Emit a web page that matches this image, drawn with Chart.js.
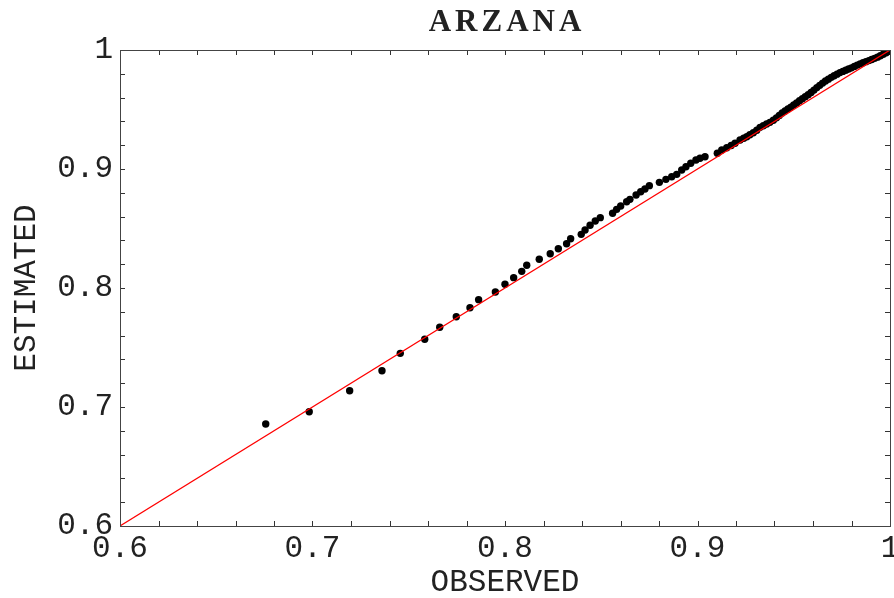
<!DOCTYPE html>
<html>
<head>
<meta charset="utf-8">
<script src="https://cdn.jsdelivr.net/npm/chart.js@4"></script>
<style>
html,body{margin:0;padding:0;background:#fff;}
#wrap{width:894px;height:598px;}
</style>
</head>
<body>
<div id="wrap"><canvas id="c" width="894" height="598"></canvas></div>
<script>
const chartTitle = 'ARZANA';
const xTitle = 'OBSERVED';
const yTitle = 'ESTIMATED';
const tickLabels = ['0.6', '0.7', '0.8', '0.9', '1'];
const axisMin = 0.6, axisMax = 1.0, minorStep = 0.02;

const observed = [
  0.6757, 0.6983, 0.7193, 0.7361, 0.7456, 0.7583, 0.7661, 0.7747, 0.7818, 0.7863,
  0.7950, 0.8000, 0.8045, 0.8087, 0.8113, 0.8178, 0.8235, 0.8277, 0.8320, 0.8341,
  0.8396, 0.8416, 0.8442, 0.8469, 0.8495, 0.8559, 0.8580, 0.8601, 0.8632, 0.8649,
  0.8681, 0.8705, 0.8727, 0.8750, 0.8802, 0.8836, 0.8866, 0.8892, 0.8918, 0.8940,
  0.8965, 0.8992, 0.9013, 0.9039,
  0.9103, 0.9126, 0.9152, 0.9175, 0.9195, 0.9221, 0.9240, 0.9256, 0.9272, 0.9290,
  0.9308, 0.9325, 0.9342, 0.9359, 0.9376, 0.9394,
  0.9410, 0.9425, 0.9440, 0.9455, 0.9470, 0.9485, 0.9500, 0.9515, 0.9530, 0.9545,
  0.9560, 0.9575, 0.9590, 0.9605, 0.9620, 0.9635, 0.9650, 0.9665, 0.9680, 0.9695,
  0.9710, 0.9725, 0.9740, 0.9755, 0.9770, 0.9785, 0.9800, 0.9815, 0.9830, 0.9845,
  0.9860, 0.9875, 0.9890, 0.9905, 0.9920, 0.9935, 0.9950, 0.9965, 0.9980, 0.9992
];
const estimated = [
  0.6857, 0.6960, 0.7137, 0.7305, 0.7451, 0.7569, 0.7670, 0.7759, 0.7834, 0.7902,
  0.7966, 0.8031, 0.8087, 0.8140, 0.8191, 0.8241, 0.8288, 0.8330, 0.8372, 0.8414,
  0.8451, 0.8487, 0.8527, 0.8563, 0.8591, 0.8628, 0.8661, 0.8689, 0.8725, 0.8745,
  0.8782, 0.8809, 0.8832, 0.8860, 0.8888, 0.8913, 0.8935, 0.8955, 0.8992, 0.9019,
  0.9048, 0.9076, 0.9090, 0.9103,
  0.9132, 0.9160, 0.9179, 0.9198, 0.9216, 0.9244, 0.9258, 0.9271, 0.9288, 0.9305,
  0.9326, 0.9350, 0.9364, 0.9378, 0.9392, 0.9410,
  0.9430, 0.9450, 0.9470, 0.9487, 0.9505, 0.9520, 0.9538, 0.9555, 0.9573, 0.9590,
  0.9608, 0.9625, 0.9643, 0.9663, 0.9684, 0.9703, 0.9722, 0.9740, 0.9755, 0.9770,
  0.9784, 0.9797, 0.9810, 0.9820, 0.9830, 0.9840, 0.9850, 0.9862, 0.9873, 0.9883,
  0.9893, 0.9902, 0.9911, 0.9920, 0.9930, 0.9940, 0.9952, 0.9964, 0.9977, 0.9990
];
const refLineX = [0.6, 1.0];
const refLineY = [0.6, 1.0];

const monoFont = "'Liberation Mono', 'Courier New', monospace";

function labelFor(v) {
  const k = (v - axisMin) / 0.1;
  const r = Math.round(k);
  if (Math.abs(k - r) < 1e-6 && r >= 0 && r < tickLabels.length) return tickLabels[r];
  return '';
}

const frameTicks = {
  id: 'frameTicks',
  afterLayout(chart) {
    const tb = chart.titleBlock;
    if (tb && !tb._spaced) {
      const orig = tb.draw.bind(tb);
      tb.draw = function () {
        const c = chart.ctx;
        c.save();
        c.letterSpacing = '4px';
        c.translate(2, 0);
        orig();
        c.restore();
      };
      tb._spaced = true;
    }
  },
  afterDraw(chart) {
    const ctx = chart.ctx;
    const a = chart.chartArea;
    const xs = chart.scales.x, ys = chart.scales.y;
    const len = 5;
    ctx.save();
    ctx.strokeStyle = '#333';
    ctx.lineWidth = 1;
    ctx.beginPath();
    xs.ticks.forEach(t => {
      const px = Math.round(xs.getPixelForValue(t.value)) + 0.5;
      ctx.moveTo(px, a.bottom); ctx.lineTo(px, a.bottom - len);
      ctx.moveTo(px, a.top); ctx.lineTo(px, a.top + len);
    });
    ys.ticks.forEach(t => {
      const py = Math.round(ys.getPixelForValue(t.value)) + 0.5;
      ctx.moveTo(a.left, py); ctx.lineTo(a.left + len, py);
      ctx.moveTo(a.right, py); ctx.lineTo(a.right - len, py);
    });
    ctx.stroke();
    ctx.strokeStyle = '#444';
    ctx.strokeRect(Math.round(a.left) + 0.5, Math.round(a.top) + 0.5,
                   Math.round(a.right - a.left), Math.round(a.bottom - a.top));
    ctx.restore();
  }
};

new Chart(document.getElementById('c'), {
  type: 'scatter',
  data: {
    datasets: [
      {
        label: 'y = x',
        data: refLineX.map((x, i) => ({x: x, y: refLineY[i]})),
        showLine: true,
        borderColor: '#ff0000',
        borderWidth: 1.2,
        pointRadius: 0,
        fill: false
      },
      {
        label: 'points',
        data: observed.map((x, i) => ({x: x, y: estimated[i]})),
        backgroundColor: '#000',
        borderWidth: 0,
        pointRadius: 3.7
      }
    ]
  },
  options: {
    responsive: false,
    animation: false,
    events: [],
    layout: { padding: { left: 0, right: 4, top: 0, bottom: 0 } },
    plugins: {
      legend: { display: false },
      tooltip: { enabled: false },
      title: {
        display: true,
        fullSize: false,
        text: chartTitle,
        color: '#222',
        font: { family: "'Liberation Serif', 'Times New Roman', serif", size: 31, weight: 'bold', lineHeight: 1 },
        padding: { top: 7, bottom: 12 }
      }
    },
    scales: {
      x: {
        type: 'linear',
        min: axisMin, max: axisMax,
        grid: { display: false, drawTicks: false },
        border: { display: false },
        ticks: {
          stepSize: minorStep,
          autoSkip: false,
          maxRotation: 0,
          padding: 4,
          color: '#222',
          font: { family: monoFont, size: 31 },
          callback: (v) => labelFor(v)
        },
        title: {
          display: true,
          text: xTitle,
          color: '#222',
          font: { family: monoFont, size: 31, lineHeight: 1 },
          padding: { top: 0, bottom: 0 }
        },
        afterFit(s) { s.height = 72; s.paddingLeft = 0; s.paddingRight = 0; }
      },
      y: {
        type: 'linear',
        min: axisMin, max: axisMax,
        grid: { display: false, drawTicks: false },
        border: { display: false },
        ticks: {
          stepSize: minorStep,
          autoSkip: false,
          padding: 7,
          color: '#222',
          font: { family: monoFont, size: 31 },
          callback: (v) => labelFor(v)
        },
        title: {
          display: true,
          text: yTitle,
          color: '#222',
          font: { family: monoFont, size: 31, lineHeight: 1 },
          padding: { top: 11, bottom: 0 }
        },
        afterFit(s) { s.width = 120; s.paddingTop = 0; s.paddingBottom = 0; }
      }
    }
  },
  plugins: [frameTicks]
});
</script>
</body>
</html>
